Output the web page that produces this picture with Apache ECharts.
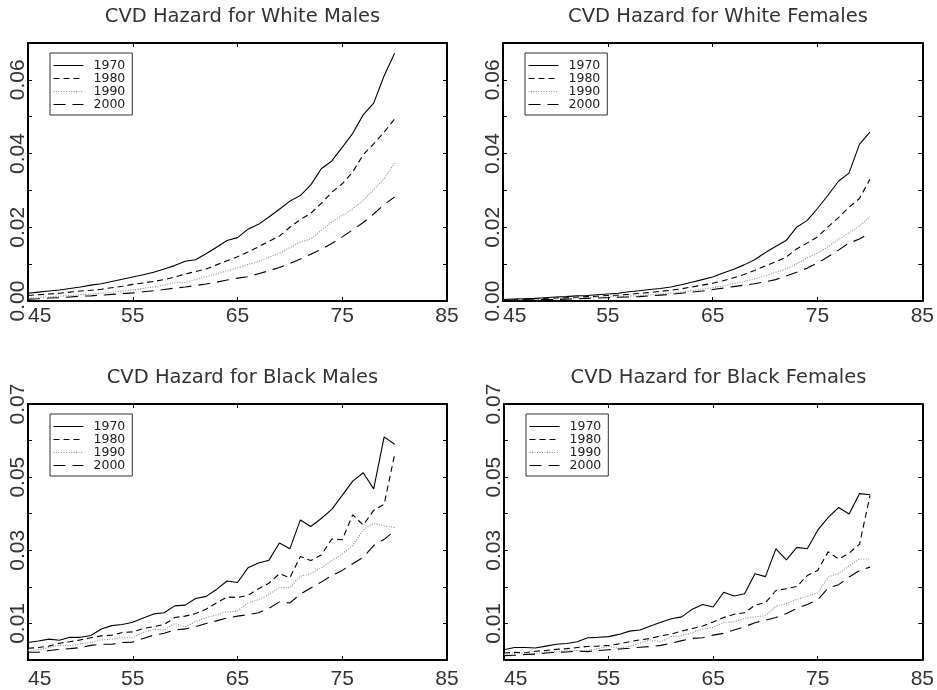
<!DOCTYPE html>
<html>
<head>
<meta charset="utf-8">
<script src="https://cdn.jsdelivr.net/npm/echarts@6/dist/echarts.min.js"></script>
<style>html,body{margin:0;padding:0;background:#fff}#c{width:937px;height:690px}</style>
</head>
<body>
<div id="c"></div>
<script>
// ---- data ----
const ages = [45,46,47,48,49,50,51,52,53,54,55,56,57,58,59,60,61,62,63,64,65,66,67,68,69,70,71,72,73,74,75,76,77,78,79,80];
const years = ['1970','1980','1990','2000'];
const titles = ['CVD Hazard for White Males','CVD Hazard for White Females','CVD Hazard for Black Males','CVD Hazard for Black Females'];
const xTicks = [45,55,65,75,85];
const yLabelsTop = ['0.00','0.02','0.04','0.06'];
const yLabelsBottom = ['0.01','0.03','0.05','0.07'];

const wm1970 = [.0021,.0024,.0027,.0030,.0034,.0038,.0043,.0047,.0053,.0059,.0065,.0071,.0078,.0087,.0096,.0108,.0112,.0128,.0146,.0164,.0172,.0195,.0208,.0228,.0249,.0271,.0286,.0315,.0359,.0380,.0417,.0455,.0505,.0537,.0611,.0672];
const wm1980 = [.0015,.0017,.0019,.0021,.0024,.0027,.0029,.0032,.0036,.0040,.0045,.0049,.0053,.0058,.0065,.0073,.0080,.0087,.0098,.0109,.0120,.0133,.0147,.0162,.0176,.0200,.0221,.0238,.0265,.0295,.0318,.0350,.0397,.0426,.0458,.0494];
const wm1990 = [.0008,.0010,.0011,.0013,.0015,.0017,.0019,.0021,.0024,.0027,.0030,.0034,.0038,.0043,.0051,.0050,.0058,.0066,.0074,.0082,.0090,.0099,.0107,.0119,.0129,.0145,.0160,.0168,.0192,.0214,.0232,.0250,.0273,.0302,.0332,.0375];
const wm2000 = [.0005,.0006,.0008,.0009,.0011,.0013,.0014,.0016,.0018,.0020,.0022,.0025,.0028,.0031,.0035,.0038,.0042,.0046,.0051,.0057,.0062,.0066,.0074,.0082,.0091,.0102,.0114,.0127,.0140,.0156,.0174,.0193,.0213,.0236,.0262,.0282];

const wf1970 = [.0004,.0005,.0006,.0007,.0009,.0011,.0012,.0014,.0015,.0017,.0019,.0021,.0025,.0028,.0031,.0034,.0038,.0044,.0051,.0058,.0065,.0076,.0086,.0098,.0112,.0131,.0148,.0164,.0200,.0218,.0251,.0287,.0325,.0347,.0425,.0458];
const wf1980 = [.0003,.0004,.0005,.0006,.0007,.0008,.0009,.0010,.0012,.0013,.0015,.0016,.0018,.0021,.0023,.0026,.0029,.0033,.0038,.0043,.0048,.0055,.0063,.0072,.0083,.0095,.0106,.0119,.0141,.0157,.0174,.0201,.0226,.0254,.0278,.0330];
const wf1990 = [.0002,.0003,.0004,.0004,.0005,.0006,.0007,.0008,.0009,.0010,.0011,.0012,.0013,.0015,.0017,.0019,.0021,.0024,.0028,.0032,.0036,.0041,.0047,.0053,.0060,.0068,.0078,.0087,.0101,.0117,.0130,.0147,.0167,.0185,.0203,.0229];
const wf2000 = [.0002,.0002,.0003,.0003,.0004,.0004,.0005,.0006,.0007,.0008,.0009,.0010,.0011,.0012,.0014,.0016,.0018,.0021,.0024,.0027,.0031,.0035,.0039,.0043,.0047,.0052,.0058,.0068,.0078,.0089,.0103,.0120,.0138,.0157,.0168,.0185];

const bm1970 = [.0048,.0052,.0057,.0054,.0062,.0062,.0067,.0085,.0094,.0097,.0103,.0115,.0126,.0129,.0148,.0150,.0168,.0174,.0193,.0216,.0212,.0252,.0265,.0273,.0320,.0304,.0383,.0365,.0387,.0412,.0450,.0489,.0512,.0468,.0610,.0590];
const bm1980 = [.0032,.0034,.0038,.0046,.0050,.0055,.0061,.0066,.0068,.0075,.0077,.0086,.0091,.0097,.0116,.0120,.0127,.0139,.0156,.0172,.0171,.0177,.0195,.0210,.0236,.0225,.0283,.0272,.0287,.0331,.0329,.0397,.0369,.0409,.0426,.0562];
const bm1990 = [.0026,.0028,.0034,.0040,.0039,.0044,.0048,.0055,.0057,.0061,.0061,.0075,.0084,.0082,.0100,.0091,.0105,.0116,.0123,.0132,.0134,.0156,.0165,.0179,.0199,.0198,.0229,.0236,.0252,.0272,.0290,.0313,.0356,.0374,.0367,.0362];
const bm2000 = [.0021,.0021,.0026,.0029,.0031,.0034,.0040,.0043,.0043,.0048,.0049,.0059,.0068,.0073,.0082,.0085,.0091,.0100,.0107,.0115,.0120,.0124,.0129,.0141,.0159,.0156,.0180,.0197,.0213,.0231,.0245,.0263,.0281,.0313,.0330,.0353];

const bf1970 = [.0028,.0034,.0034,.0033,.0038,.0043,.0045,.0050,.0061,.0062,.0064,.0070,.0079,.0082,.0093,.0103,.0113,.0118,.0139,.0152,.0145,.0185,.0175,.0181,.0236,.0228,.0304,.0274,.0308,.0304,.0355,.0390,.0417,.0399,.0455,.0452];
const bf1980 = [.0019,.0021,.0020,.0024,.0026,.0029,.0031,.0034,.0037,.0038,.0040,.0044,.0050,.0055,.0059,.0066,.0071,.0079,.0086,.0093,.0104,.0116,.0125,.0129,.0150,.0157,.0190,.0195,.0201,.0231,.0245,.0296,.0276,.0292,.0317,.0450];
const bf1990 = [.0016,.0016,.0019,.0018,.0022,.0023,.0026,.0026,.0026,.0031,.0037,.0032,.0037,.0046,.0055,.0050,.0064,.0066,.0075,.0084,.0089,.0103,.0104,.0114,.0118,.0121,.0147,.0154,.0166,.0174,.0184,.0227,.0237,.0258,.0276,.0276];
const bf2000 = [.0012,.0013,.0015,.0016,.0019,.0021,.0022,.0024,.0023,.0026,.0028,.0030,.0032,.0035,.0037,.0040,.0046,.0053,.0059,.0061,.0068,.0073,.0082,.0091,.0102,.0109,.0116,.0127,.0141,.0152,.0165,.0197,.0206,.0227,.0245,.0254];

const panelData = [
  [wm1970, wm1980, wm1990, wm2000],
  [wf1970, wf1980, wf1990, wf2000],
  [bm1970, bm1980, bm1990, bm2000],
  [bf1970, bf1980, bf1990, bf2000]
];

// ---- layout / style ----
const grids = [
  {left: 28, top: 43, width: 419, height: 258},
  {left: 503, top: 43, width: 420, height: 258},
  {left: 28, top: 404, width: 419, height: 259},
  {left: 504, top: 404, width: 419, height: 259}
];
const lineStyles = [
  {type: 'solid', color: '#000', width: 1.1},
  {type: [6, 4], color: '#000', width: 1.1},
  {type: [1, 1.5], color: '#8a8a8a', width: 1.1},
  {type: [12, 7], color: '#000', width: 1.1}
];
const tickFont = 'Liberation Sans';
const axisColor = '#000';

const option = {
  backgroundColor: '#fff',
  animation: false,
  title: [], grid: [], xAxis: [], yAxis: [], series: [], legend: []
};

grids.forEach((g, i) => {
  const bottomRow = i >= 2;
  option.grid.push(Object.assign({containLabel: false}, g));
  option.title.push({
    text: titles[i],
    left: g.left + g.width / 2,
    top: bottomRow ? 363 : 2,
    textAlign: 'center',
    textStyle: {fontFamily: 'DejaVu Sans', fontWeight: 'normal', fontSize: 19.5, color: '#333'}
  });
  const common = {
    type: 'value', min: 45, max: 85, interval: 10, gridIndex: i,
    splitLine: {show: false},
    axisLine: {show: true, onZero: false, lineStyle: {color: axisColor, width: 2}},
    axisTick: {show: true, inside: true, length: 4, lineStyle: {color: axisColor, width: 1}}
  };
  option.xAxis.push(Object.assign({}, common, {
    position: 'bottom',
    axisLabel: {
      show: true, margin: bottomRow ? 9 : 5, alignMinLabel: 'left',
      fontFamily: tickFont, fontSize: 21, color: '#333',
      formatter: v => (xTicks.indexOf(v) >= 0 ? String(v) : '')
    }
  }));
  option.xAxis.push(Object.assign({}, common, {position: 'top', axisLabel: {show: false}}));
  const labels = bottomRow ? yLabelsBottom : yLabelsTop;
  const ycommon = {
    type: 'value', min: 0, max: 0.07, interval: 0.01, gridIndex: i,
    splitLine: {show: false},
    axisLine: {show: true, onZero: false, lineStyle: {color: axisColor, width: 2}},
    axisTick: {show: true, inside: true, length: 4, lineStyle: {color: axisColor, width: 1}}
  };
  option.yAxis.push(Object.assign({}, ycommon, {
    position: 'left',
    axisLabel: {
      show: true, rotate: 90, margin: -1,
      fontFamily: tickFont, fontSize: 21, color: '#333',
      formatter: v => { const s = v.toFixed(2); return labels.indexOf(s) >= 0 ? s : ''; }
    }
  }));
  option.yAxis.push(Object.assign({}, ycommon, {position: 'right', axisLabel: {show: false}}));

  panelData[i].forEach((arr, k) => {
    option.series.push({
      name: years[k],
      type: 'line',
      xAxisIndex: 2 * i,
      yAxisIndex: 2 * i,
      data: ages.map((a, j) => [a, arr[j]]),
      symbol: 'none',
      showSymbol: false,
      lineStyle: lineStyles[k],
      itemStyle: {color: lineStyles[k].color},
      silent: true,
      z: 2
    });
  });

  option.legend.push({
    data: years,
    orient: 'vertical',
    left: g.left + 22,
    top: g.top + 10,
    padding: [6, 7, 4, 3],
    itemGap: 0,
    itemWidth: 30,
    itemHeight: 12,
    borderColor: '#333',
    borderWidth: 1,
    backgroundColor: '#fff',
    selectedMode: false,
    itemStyle: {color: 'transparent', borderColor: 'transparent', borderWidth: 0},
    lineStyle: {width: 1},
    textStyle: {fontFamily: 'DejaVu Sans', fontSize: 12.5, color: '#222', lineHeight: 12, padding: [0, 0, 0, 5]}
  });
});

const chart = echarts.init(document.getElementById('c'), null, {renderer: 'canvas'});
chart.setOption(option);
</script>
</body>
</html>
